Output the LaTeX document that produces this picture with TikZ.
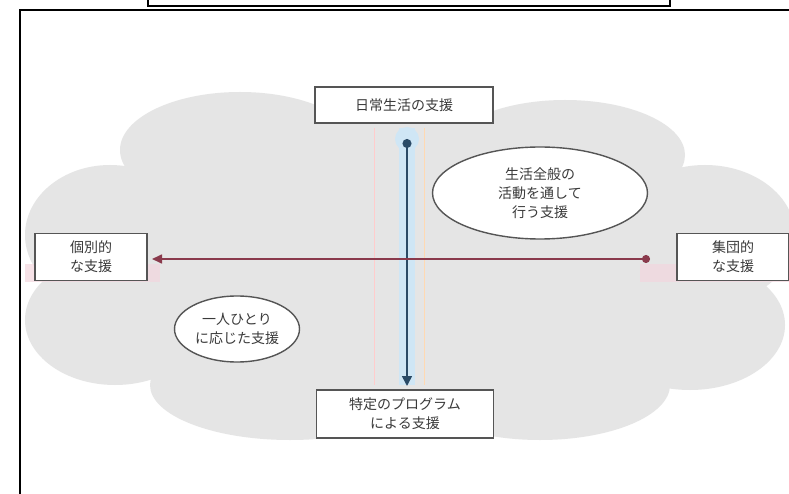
\documentclass[tikz,border=0pt]{standalone}
\usepackage{fontspec}
\newfontfamily\jp{Noto Sans CJK JP}
\usetikzlibrary{arrows.meta,shapes.geometric}
\definecolor{cloudc}{HTML}{E5E5E5}
\definecolor{txt}{HTML}{3A3A3A}
\definecolor{boxc}{HTML}{555555}
\definecolor{hline}{HTML}{8A3A4C}
\definecolor{vline}{HTML}{2A4A66}
\definecolor{vglow}{HTML}{CFE6F5}
\definecolor{hglow}{HTML}{F3D6DE}
\tikzset{
  lbl/.style={font=\jp\fontsize{14}{19}\selectfont, text=txt, align=center},
  boxnode/.style={lbl, draw=boxc, line width=1.6pt, fill=white, inner sep=0pt},
  ellnode/.style={lbl, draw=boxc, line width=1.4pt, fill=white, ellipse, inner sep=0pt},
  lobe/.style={fill=cloudc, draw=none},
}
\begin{document}
\begin{tikzpicture}[x=1pt,y=-1pt]
\useasboundingbox (0,0) rectangle (789,494);
\fill[white] (0,0) rectangle (789,494);
% cloud
\fill[lobe] (405,265) ellipse [x radius=330, y radius=150];
\fill[lobe] (240,150) ellipse [x radius=120, y radius=58];
\fill[lobe] (565,155) ellipse [x radius=120, y radius=55];
\fill[lobe] (110,235) ellipse [x radius=85, y radius=70];
\fill[lobe] (115,320) ellipse [x radius=90, y radius=65];
\fill[lobe] (705,235) ellipse [x radius=90, y radius=70];
\fill[lobe] (690,325) ellipse [x radius=95, y radius=65];
\fill[lobe] (290,385) ellipse [x radius=140, y radius=55];
\fill[lobe] (540,385) ellipse [x radius=130, y radius=55];
% faint glows
\fill[vglow] (399,128) rectangle (415,385);
\fill[vglow] (407,139) circle (12);
\fill[hglow, opacity=0.7] (25,264) rectangle (160,282);
\fill[hglow, opacity=0.7] (640,264) rectangle (789,282);
\draw[red!20, line width=1pt] (374,128) -- (374,385);
\draw[orange!30, line width=1pt] (424,128) -- (424,385);
% frames
\draw[black, line width=1.2pt, fill=white] (148,-5) rectangle (670,6);
\draw[black, line width=2.2pt] (20,500) -- (20,10) -- (795,10);
% nodes
\node[boxnode, minimum width=178pt, minimum height=36pt] (top) at (404,105) {日常生活の支援};
\node[boxnode, minimum width=177pt, minimum height=48pt] (bot) at (405,414) {特定のプログラム\\による支援};
\node[boxnode, minimum width=112pt, minimum height=47pt] (left) at (91,257) {個別的\\な支援};
\node[boxnode, minimum width=112pt, minimum height=47pt] (right) at (733,257) {集団的\\な支援};
\node[ellnode, minimum width=215pt, minimum height=92pt] (e1) at (540,193) {生活全般の\\活動を通して\\行う支援};
\node[ellnode, minimum width=125pt, minimum height=66pt] (e2) at (237,329) {一人ひとり\\に応じた支援};
% connectors
\coordinate (vt) at (407,139);
\coordinate (vb) at (407,386);
\coordinate (hl) at (152,259);
\coordinate (hr) at (650,259);
\draw[vline, line width=1.6pt, {Circle[length=9pt]}-{Triangle[length=10pt,width=10pt]}] (vt) -- (vb);
\draw[hline, line width=1.6pt, {Triangle[length=10pt,width=9pt]}-{Circle[length=8pt]}] (hl) -- (hr);
\end{tikzpicture}
\end{document}
